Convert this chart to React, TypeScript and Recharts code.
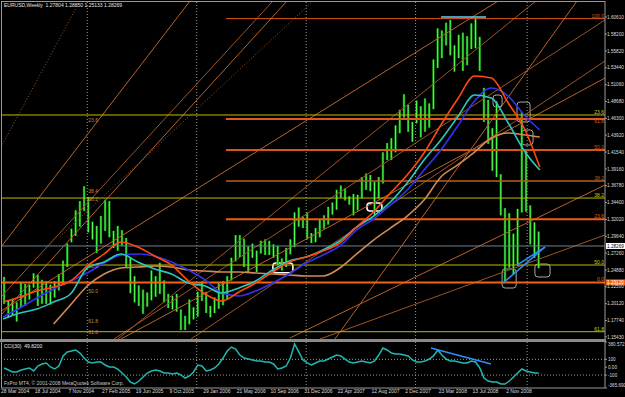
import {
  ComposedChart,
  Bar,
  Line,
  XAxis,
  YAxis,
  ReferenceLine,
  ReferenceArea,
} from "recharts";

const FONT = "'Liberation Sans', Arial, sans-serif";

// weeks since 28 Mar 2004, chart keeps some empty space on the right
const W_MIN = -1;
const W_MAX = 286;
const P_MIN = 1.1513;
const P_MAX = 1.6287;

// two-week bars
const HIGH = [
  1.239, 1.206, 1.208, 1.203, 1.232, 1.229, 1.228, 1.244, 1.242, 1.235,
  1.233, 1.228, 1.233, 1.243, 1.262, 1.286, 1.307, 1.333, 1.346, 1.367,
  1.352, 1.317, 1.311, 1.325, 1.348, 1.346, 1.304, 1.311, 1.305, 1.294,
  1.267, 1.24, 1.227, 1.221, 1.217, 1.248, 1.24, 1.259, 1.234, 1.215,
  1.212, 1.215, 1.193, 1.184, 1.207, 1.196, 1.218, 1.232, 1.218, 1.198,
  1.21, 1.23, 1.233, 1.24, 1.266, 1.298, 1.298, 1.293, 1.282, 1.286,
  1.276, 1.29, 1.292, 1.29, 1.285, 1.283, 1.265, 1.28, 1.292, 1.33,
  1.337, 1.324, 1.33, 1.301, 1.308, 1.32, 1.326, 1.338, 1.344, 1.362,
  1.368, 1.364, 1.353, 1.356, 1.355, 1.38, 1.385, 1.383, 1.373, 1.38,
  1.415, 1.428, 1.435, 1.453, 1.475, 1.497, 1.482, 1.458, 1.488, 1.48,
  1.491, 1.484, 1.546, 1.59, 1.587, 1.598, 1.602, 1.566, 1.581, 1.584,
  1.579, 1.597, 1.604, 1.578, 1.506, 1.489, 1.449, 1.487, 1.384, 1.336,
  1.329, 1.3, 1.335, 1.472, 1.419, 1.34, 1.316, 1.303,
];
const LOW = [
  1.201, 1.181, 1.185, 1.176, 1.196, 1.198, 1.207, 1.224, 1.198, 1.201,
  1.201, 1.2, 1.21, 1.22, 1.229, 1.253, 1.288, 1.297, 1.31, 1.332,
  1.302, 1.292, 1.273, 1.286, 1.304, 1.295, 1.28, 1.276, 1.283, 1.253,
  1.216, 1.203, 1.198, 1.187, 1.197, 1.206, 1.211, 1.215, 1.203, 1.195,
  1.193, 1.19, 1.164, 1.164, 1.172, 1.179, 1.183, 1.205, 1.188, 1.182,
  1.188, 1.194, 1.199, 1.207, 1.234, 1.261, 1.267, 1.253, 1.246, 1.266,
  1.246, 1.272, 1.27, 1.27, 1.266, 1.256, 1.248, 1.253, 1.271, 1.281,
  1.31, 1.308, 1.292, 1.287, 1.288, 1.295, 1.307, 1.313, 1.327, 1.334,
  1.351, 1.347, 1.341, 1.326, 1.333, 1.35, 1.362, 1.36, 1.326, 1.35,
  1.371, 1.404, 1.404, 1.415, 1.442, 1.464, 1.444, 1.43, 1.456, 1.436,
  1.444, 1.45, 1.476, 1.534, 1.548, 1.566, 1.552, 1.529, 1.548, 1.53,
  1.538, 1.561, 1.562, 1.53, 1.458, 1.427, 1.389, 1.38, 1.326, 1.233,
  1.252, 1.242, 1.255, 1.33, 1.331, 1.285, 1.266, 1.2513,
];

// moving averages, one value every 8 weeks
const MA_WEEKS = [
  0, 8, 16, 24, 32, 40, 48, 56, 64, 72, 80, 88, 96, 104, 112, 120, 128, 136,
  144, 152, 160, 168, 176, 184, 192, 200, 208, 216, 224, 232, 240, 248, 255,
];
const MA_RED = [
  1.2036, 1.2106, 1.2191, 1.2247, 1.2332, 1.2544, 1.2714, 1.2883, 1.2812,
  1.2685, 1.2558, 1.2332, 1.2148, 1.205, 1.2177, 1.2304, 1.2459, 1.2601,
  1.2671, 1.2756, 1.2869, 1.3095, 1.3307, 1.3575, 1.3829, 1.414, 1.4536,
  1.4903, 1.5228, 1.52, 1.4846, 1.4465, 1.3942,
];
const MA_CYAN = [
  1.1796, 1.188, 1.1937, 1.2036, 1.2148, 1.2516, 1.2601, 1.2714, 1.2601,
  1.2502, 1.2431, 1.2304, 1.2262, 1.2163, 1.2234, 1.2332, 1.2488, 1.2615,
  1.2671, 1.277, 1.2897, 1.3095, 1.325, 1.3448, 1.3716, 1.4041, 1.4324,
  1.4649, 1.4959, 1.4917, 1.4564, 1.4154, 1.39,
];
const MA_BLUE = [
  1.1824, 1.1951, 1.2092, 1.2219, 1.2332, 1.2445, 1.2586, 1.27, 1.2714,
  1.2685, 1.2601, 1.2488, 1.2347, 1.2163, 1.212, 1.2191, 1.2304, 1.2431,
  1.2586, 1.27, 1.2827, 1.3053, 1.3208, 1.3405, 1.3617, 1.39, 1.4182,
  1.4522, 1.4875, 1.5058, 1.4945, 1.4663, 1.4465,
];
const MA_TAN = [
  null, null, null, 1.1725, 1.1993, 1.2262, 1.2431, 1.2516, 1.253, 1.2544,
  1.253, 1.2488, 1.2474, 1.2459, 1.2459, 1.2445, 1.2431, 1.2417, 1.2403,
  1.2403, 1.2516, 1.2714, 1.2911, 1.308, 1.325, 1.3476, 1.3801, 1.3971,
  1.4154, 1.4352, 1.4423, 1.4395, 1.4366,
];

// CCI(30), one value per two-week bar
const CCI = [
  -10, -36, -61, -61, -36, -23, -10, -48, 15, 41, 54, 3, -23, 15, 143, 194,
  206, 219, 180, 117, 66, 54, 66, 66, 28, 3, 3, -23, -74, -125, -189, -214,
  -176, -125, -74, -48, -36, -48, -74, -74, -87, -74, -99, -138, -112, -61,
  28, 15, -48, -36, -10, 41, 117, 206, 257, 232, 155, 117, 104, 92, 79, 79,
  66, 66, 41, -23, -10, 15, 117, 296, 194, 92, 54, 28, 54, 79, 79, 104, 130,
  155, 143, 104, 66, 54, 66, 79, 66, 54, 79, 155, 245, 219, 180, 168, 168,
  155, 143, 92, 66, 66, 79, 104, 143, 219, 155, 104, 79, 79, 66, 54, 54, 79,
  66, -10, -138, -176, -189, -189, -214, -214, -176, -125, -74, -23, -48,
  -61, -74, -74,
];

const PRICE_TICKS = [
  1.6061, 1.582, 1.5582, 1.5344, 1.5106, 1.4868, 1.463, 1.4392, 1.4154,
  1.3916, 1.3678, 1.344, 1.3202, 1.2964, 1.2726, 1.2488, 1.225, 1.2012,
  1.1774, 1.1543,
];
const DATE_WEEKS = [
  0, 16, 32, 48, 64, 80, 96, 112, 128, 144, 160, 176, 192, 208, 224, 240,
];
const DATE_LABELS = [
  "28 Mar 2004", "18 Jul 2004", "7 Nov 2004", "27 Feb 2005", "19 Jun 2005",
  "9 Oct 2005", "29 Jan 2006", "21 May 2006", "10 Sep 2006", "31 Dec 2006",
  "22 Apr 2007", "12 Aug 2007", "2 Dec 2007", "23 Mar 2008", "13 Jul 2008",
  "2 Nov 2008",
];
const GRID_WEEKS = [40, 92, 144, 196, 249];

// fibonacci levels (orange set starts mid chart, yellow set is full width)
const FIB_ORANGE = [
  { p: 1.6038, text: "100.0", color: "#e2581c", width: 1, from: 105.9, below: false },
  { p: 1.4622, text: "61.8", color: "#e2581c", width: 2, from: 105.9, below: true },
  { p: 1.4184, text: "50.0", color: "#d8541a", width: 2, from: 105.9, below: false },
  { p: 1.3746, text: "38.2", color: "#b8601e", width: 1.5, from: 105.9, below: false },
  { p: 1.3205, text: "23.6", color: "#f05a14", width: 2, from: 105.9, below: false },
  { p: 1.2312, text: "0.0", color: "#f06414", width: 2, from: W_MIN, below: false },
];
const FIB_YELLOW = [
  { p: 1.4677, text: "23.6" },
  { p: 1.3504, text: "38.2" },
  { p: 1.2558, text: "50.0" },
  { p: 1.1616, text: "61.8" },
];
const LEFT_FIB_TEXT = [
  { p: 1.458, text: "23.6" },
  { p: 1.357, text: "38.4" },
  { p: 1.346, text: "38.2" },
  { p: 1.251, text: "50.0" },
  { p: 1.216, text: "50.0" },
  { p: 1.174, text: "61.8" },
  { p: 1.158, text: "61.8" },
];

const DIAGONALS = [
  { w1: -1, p1: 1.4225, w2: 36.5, p2: 1.6287, dash: true },
  { w1: -1, p1: 1.2812, w2: 88.8, p2: 1.6287 },
  { w1: -1, p1: 1.2106, w2: 128.2, p2: 1.6287 },
  { w1: -1, p1: 1.1852, w2: 134.9, p2: 1.6287 },
  { w1: 27, p1: 1.296, w2: 147.3, p2: 1.6287, dash: true },
  { w1: -1, p1: 1.1908, w2: 235.2, p2: 1.6287 },
  { w1: 54.6, p1: 1.1513, w2: 253.2, p2: 1.6287 },
  { w1: 157.7, p1: 1.1513, w2: 272.7, p2: 1.6287 },
  { w1: 52.7, p1: 1.1513, w2: 286, p2: 1.6019 },
  { w1: 56, p1: 1.1513, w2: 286, p2: 1.5199 },
  { w1: 89.3, p1: 1.1513, w2: 286, p2: 1.544 },
  { w1: 136.3, p1: 1.1527, w2: 286, p2: 1.3688 },
  { w1: 150.6, p1: 1.1513, w2: 286, p2: 1.2982 },
];

const MARKERS = [
  { w1: 128.2, w2: 137.7, p1: 1.2449, p2: 1.2587, color: "#ffffff", sw: 1.6 },
  { w1: 172.9, w2: 180, p1: 1.3321, p2: 1.3434, color: "#ffffff", sw: 1.6 },
  { w1: 237.1, w2: 243.8, p1: 1.2233, p2: 1.2502, color: "#a8a8a8", sw: 1 },
  { w1: 252.7, w2: 259.9, p1: 1.2389, p2: 1.2572, color: "#a8a8a8", sw: 1 },
  { w1: 232.8, w2: 237.1, p1: 1.479, p2: 1.4959, color: "#a8a8a8", sw: 1 },
  { w1: 244.2, w2: 250.4, p1: 1.4578, p2: 1.486, color: "#a8a8a8", sw: 1 },
  { w1: 246.6, w2: 251.8, p1: 1.4253, p2: 1.4465, color: "#a8a8a8", sw: 1 },
];

const BLUE_LINES = [
  { w1: 208.1, p1: 1.6061, w2: 229.5, p2: 1.6061, color: "#5fd0ff" },
  { w1: 237.5, p1: 1.2304, w2: 257.5, p2: 1.2812, color: "#2f8fff" },
  { w1: 244.2, p1: 1.2558, w2: 257.5, p2: 1.2812, color: "#2f8fff" },
];

const BID = 1.28269;

const CCI_TICKS = [321, 100, 0, -100, -265];
const CCI_TICK_TEXT = ["380.572", "100", "0.00", "-100", "-365.690"];

const priceRows = [
  ...HIGH.map((h, k) => ({ w: 2 * k + 0.5, range: [LOW[k], h] })),
  ...MA_WEEKS.map((w, i) => ({
    w,
    red: MA_RED[i],
    cyan: MA_CYAN[i],
    blue: MA_BLUE[i],
    tan: MA_TAN[i],
  })),
].sort((a, b) => a.w - b.w);

const cciRows = CCI.map((v, k) => ({ w: 2 * k + 0.5, cci: v }));

function PriceBar(props: any) {
  const { x, y, width, height } = props;
  if (y == null || isNaN(y)) return null;
  const cx = x + width / 2;
  const h = Math.max(height, 1);
  return (
    <g>
      <rect x={cx - 1.2} y={y} width={2.4} height={h} fill="#0a880a" />
      <rect x={cx - 0.5} y={y} width={1} height={h} fill="#52ff52" />
    </g>
  );
}

function PriceTag(props: any) {
  const { viewBox, text, bg, fg } = props;
  if (!viewBox) return null;
  const x = viewBox.x + viewBox.width + 1;
  return (
    <g>
      <rect x={x} y={viewBox.y - 3} width={19} height={6} fill={bg} />
      <text
        x={x + 1}
        y={viewBox.y + 1.8}
        fontSize={4.7}
        fontFamily={FONT}
        fill={fg}
      >
        {text}
      </text>
    </g>
  );
}

function RoundBox(props: any) {
  const { x, y, width, height, stroke, strokeWidth } = props;
  return (
    <rect
      x={x}
      y={y}
      width={width}
      height={height}
      rx={3}
      fill="none"
      stroke={stroke}
      strokeWidth={strokeWidth}
    />
  );
}

function DateTick(props: any) {
  const { x, y, index } = props;
  return (
    <text x={x - 2} y={y + 4} fontSize={5} fontFamily={FONT} fill="#dcdcdc">
      {DATE_LABELS[index]}
    </text>
  );
}

function CciTick(props: any) {
  const { x, y, payload } = props;
  // chart-local y: keep the end labels inside the panel
  const yy = Math.min(Math.max(y, 3), 44);
  const i = CCI_TICKS.indexOf(payload.value);
  return (
    <text x={x - 1} y={yy + 2} fontSize={4.6} fontFamily={FONT} fill="#dcdcdc">
      {CCI_TICK_TEXT[i]}
    </text>
  );
}

const gridLines = (key: string) =>
  GRID_WEEKS.map((w) => (
    <ReferenceLine
      key={key + w}
      x={w}
      stroke="#9a9a9a"
      strokeDasharray="1 2"
    />
  ));

export default function App() {
  return (
    <div
      style={{
        position: "fixed",
        left: 0,
        top: 0,
        width: 625,
        height: 397,
        background: "#000",
        overflow: "hidden",
      }}
    >
      <div style={{ position: "absolute", left: 0, top: 0 }}>
        <ComposedChart
          width={625}
          height={340}
          data={priceRows}
          margin={{ top: 1, right: 0, bottom: 1, left: 1 }}
        >
          <XAxis
            dataKey="w"
            type="number"
            domain={[W_MIN, W_MAX]}
            allowDataOverflow
            hide
          />
          <YAxis
            orientation="right"
            type="number"
            domain={[P_MIN, P_MAX]}
            allowDataOverflow
            ticks={PRICE_TICKS}
            interval={0}
            width={20}
            tickFormatter={(v: number) => v.toFixed(5)}
            tick={{ fontSize: 4.7, fill: "#dcdcdc", fontFamily: FONT }}
            tickSize={2}
            tickMargin={0}
            tickLine={{ stroke: "#9a9a9a" }}
            axisLine={{ stroke: "#9a9a9a" }}
          />
          {gridLines("g")}
          {DIAGONALS.map((d, i) => (
            <ReferenceLine
              key={"d" + i}
              segment={[
                { x: d.w1, y: d.p1 },
                { x: d.w2, y: d.p2 },
              ]}
              stroke={i % 2 ? "#b8632a" : "#9c5426"}
              strokeWidth={1}
              strokeDasharray={d.dash ? "1 2" : undefined}
              ifOverflow="hidden"
            />
          ))}
          {FIB_YELLOW.map((f) => (
            <ReferenceLine
              key={"y" + f.text}
              y={f.p}
              stroke="#bdbd00"
              strokeWidth={1}
              label={{
                value: f.text,
                position: "insideBottomRight",
                offset: 1,
                fill: "#c8d400",
                fontSize: 5,
                fontFamily: FONT,
              }}
            />
          ))}
          {FIB_ORANGE.map((f) => (
            <ReferenceLine
              key={"o" + f.text}
              segment={[
                { x: f.from, y: f.p },
                { x: W_MAX, y: f.p },
              ]}
              stroke={f.color}
              strokeWidth={f.width}
              label={{
                value: f.text,
                position: f.below ? "insideTopRight" : "insideBottomRight",
                offset: 1,
                fill: f.color,
                fontSize: 5,
                fontFamily: FONT,
              }}
            />
          ))}
          {LEFT_FIB_TEXT.map((f, i) => (
            <ReferenceLine
              key={"lf" + i}
              segment={[
                { x: 40.5, y: f.p },
                { x: 41, y: f.p },
              ]}
              stroke="none"
              label={{
                value: f.text,
                position: "insideBottomLeft",
                offset: 0,
                fill: "#c88a3c",
                fontSize: 5,
                fontFamily: FONT,
              }}
            />
          ))}
          <ReferenceLine
            y={BID}
            stroke="#6f8090"
            strokeWidth={1}
            label={<PriceTag text="1.28269" bg="#ffffff" fg="#000000" />}
          />
          <ReferenceLine
            y={1.2312}
            stroke="none"
            label={<PriceTag text="1.23120" bg="#f06414" fg="#ffffff" />}
          />
          <Bar
            dataKey="range"
            barSize={3}
            shape={<PriceBar />}
            isAnimationActive={false}
          />
          <Line
            dataKey="tan"
            type="monotone"
            stroke="#d08a52"
            strokeWidth={1.6}
            dot={false}
            connectNulls
            isAnimationActive={false}
          />
          <Line
            dataKey="blue"
            type="monotone"
            stroke="#3232f0"
            strokeWidth={1.6}
            dot={false}
            connectNulls
            isAnimationActive={false}
          />
          <Line
            dataKey="cyan"
            type="monotone"
            stroke="#2cc8c0"
            strokeWidth={1.6}
            dot={false}
            connectNulls
            isAnimationActive={false}
          />
          <Line
            dataKey="red"
            type="monotone"
            stroke="#ff4a10"
            strokeWidth={1.6}
            dot={false}
            connectNulls
            isAnimationActive={false}
          />
          {MARKERS.map((m, i) => (
            <ReferenceArea
              key={"m" + i}
              x1={m.w1}
              x2={m.w2}
              y1={m.p1}
              y2={m.p2}
              stroke={m.color}
              strokeWidth={m.sw}
              shape={<RoundBox />}
            />
          ))}
          {BLUE_LINES.map((b, i) => (
            <ReferenceLine
              key={"b" + i}
              segment={[
                { x: b.w1, y: b.p1 },
                { x: b.w2, y: b.p2 },
              ]}
              stroke={b.color}
              strokeWidth={1.5}
            />
          ))}
        </ComposedChart>
      </div>

      <div style={{ position: "absolute", left: 0, top: 341 }}>
        <ComposedChart
          width={625}
          height={56}
          data={cciRows}
          margin={{ top: 1, right: 0, bottom: 0, left: 1 }}
        >
          <XAxis
            dataKey="w"
            type="number"
            domain={[W_MIN, W_MAX]}
            allowDataOverflow
            ticks={DATE_WEEKS}
            interval={0}
            height={9}
            tickSize={1}
            tickMargin={0}
            tick={<DateTick />}
            tickLine={false}
            axisLine={{ stroke: "#9a9a9a" }}
          />
          <YAxis
            orientation="right"
            type="number"
            domain={[-265, 321]}
            allowDataOverflow
            ticks={CCI_TICKS}
            interval={0}
            width={20}
            tick={<CciTick />}
            tickSize={2}
            tickLine={{ stroke: "#9a9a9a" }}
            axisLine={{ stroke: "#9a9a9a" }}
          />
          {gridLines("c")}
          <ReferenceLine y={100} stroke="#9a9a9a" strokeDasharray="1 2" />
          <ReferenceLine y={-100} stroke="#9a9a9a" strokeDasharray="1 2" />
          <Line
            dataKey="cci"
            type="linear"
            stroke="#22b8b0"
            strokeWidth={1.5}
            dot={false}
            isAnimationActive={false}
          />
          <ReferenceLine
            segment={[
              { x: 203.3, y: 245 },
              { x: 231.8, y: 41 },
            ]}
            stroke="#2f8fff"
            strokeWidth={1.5}
          />
        </ComposedChart>
      </div>

      {/* panel frames */}
      <div
        style={{
          position: "absolute",
          left: 1,
          top: 1,
          width: 604,
          height: 338,
          borderTop: "1px solid #9a9a9a",
          borderLeft: "1px solid #9a9a9a",
          boxSizing: "border-box",
          pointerEvents: "none",
        }}
      />
      <div
        style={{
          position: "absolute",
          left: 0,
          top: 339,
          width: 606,
          height: 3,
          background: "#8a8a8a",
        }}
      />
      <div
        style={{
          position: "absolute",
          left: 1,
          top: 342,
          width: 1,
          height: 46,
          background: "#9a9a9a",
        }}
      />
      <div
        style={{
          position: "absolute",
          left: 4,
          top: 2,
          fontFamily: FONT,
          fontSize: 5,
          color: "#e6e6e6",
          whiteSpace: "pre",
        }}
      >
        {"EURUSD,Weekly  1.27804 1.28850 1.25133 1.28269"}
      </div>
      <div
        style={{
          position: "absolute",
          left: 4,
          top: 343,
          fontFamily: FONT,
          fontSize: 5,
          color: "#e6e6e6",
          whiteSpace: "pre",
        }}
      >
        {"CCI(30)  49.8200"}
      </div>
      <div
        style={{
          position: "absolute",
          left: 4,
          top: 380,
          fontFamily: FONT,
          fontSize: 5,
          color: "#c8c8c8",
          whiteSpace: "pre",
        }}
      >
        {"FxPro MT4, © 2001-2008 MetaQuotes Software Corp."}
      </div>
    </div>
  );
}
